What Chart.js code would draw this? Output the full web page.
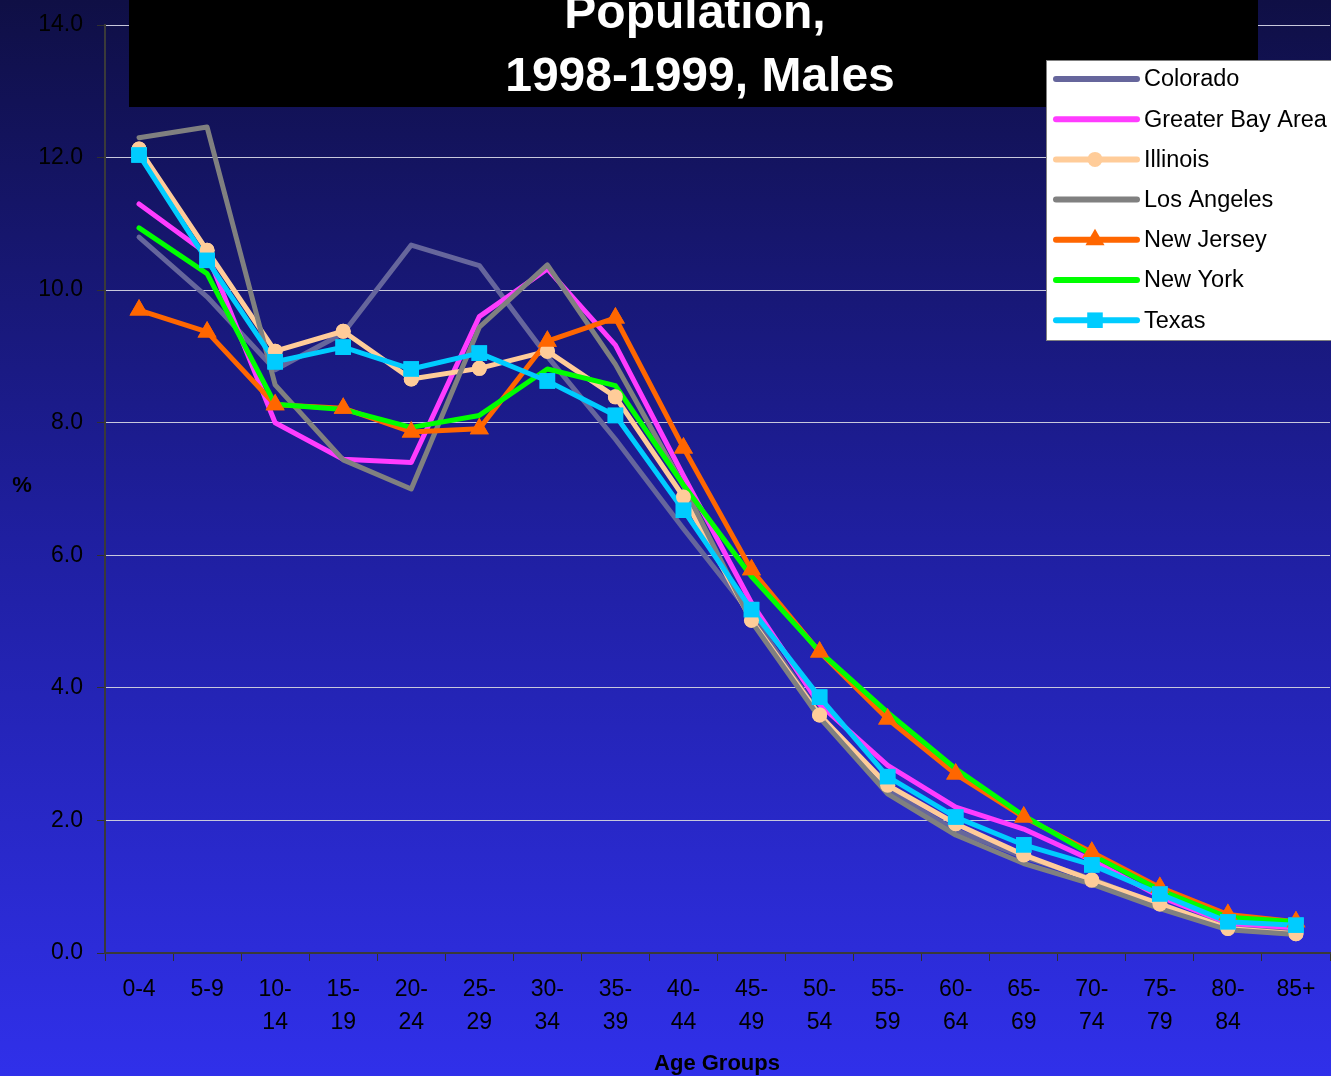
<!DOCTYPE html>
<html>
<head>
<meta charset="utf-8">
<script src="https://cdn.jsdelivr.net/npm/chart.js@4.4.1/dist/chart.umd.min.js"></script>
<style>
  html, body { margin: 0; padding: 0; background: #10104a; overflow: hidden; }
  #wrap { width: 1331px; height: 1076px; position: relative; }
</style>
</head>
<body>
<div id="wrap"><canvas id="popChart"></canvas></div>
<script>
// age groups and percentages
const ageGroups = ['0-4', '5-9', ['10-', '14'], ['15-', '19'], ['20-', '24'], ['25-', '29'],
  ['30-', '34'], ['35-', '39'], ['40-', '44'], ['45-', '49'], ['50-', '54'], ['55-', '59'],
  ['60-', '64'], ['65-', '69'], ['70-', '74'], ['75-', '79'], ['80-', '84'], '85+'];

const colorado   = [10.8, 9.9, 8.8, 9.35, 10.68, 10.37, 9.0, 7.75, 6.4, 5.1, 3.6, 2.45, 1.85, 1.45, 1.12, 0.72, 0.4, 0.33];
const bayArea    = [11.3, 10.55, 8.0, 7.45, 7.4, 9.6, 10.32, 9.17, 7.2, 5.28, 3.75, 2.83, 2.2, 1.87, 1.4, 0.85, 0.45, 0.38];
const illinois   = [12.13, 10.6, 9.08, 9.38, 8.66, 8.82, 9.08, 8.39, 6.88, 5.02, 3.59, 2.53, 1.95, 1.48, 1.1, 0.74, 0.37, 0.29];
const losAngeles = [12.3, 12.46, 8.57, 7.44, 7.0, 9.44, 10.38, 8.88, 7.05, 5.0, 3.55, 2.4, 1.78, 1.35, 1.04, 0.67, 0.35, 0.28];
const newJersey  = [9.7, 9.37, 8.27, 8.22, 7.86, 7.91, 9.23, 9.58, 7.62, 5.78, 4.54, 3.53, 2.7, 2.05, 1.52, 0.99, 0.58, 0.47];
const newYork    = [10.94, 10.25, 8.28, 8.2, 7.93, 8.11, 8.81, 8.56, 7.06, 5.68, 4.55, 3.63, 2.78, 2.07, 1.48, 0.95, 0.54, 0.47];
const texas      = [12.04, 10.45, 8.92, 9.14, 8.81, 9.05, 8.63, 8.11, 6.68, 5.18, 3.86, 2.66, 2.05, 1.63, 1.33, 0.89, 0.47, 0.42];

const yTicks = [0, 2, 4, 6, 8, 10, 12, 14];

function series(label, data, color, order, style, radius) {
  return {
    label: label,
    data: data,
    borderColor: color,
    backgroundColor: color,
    borderWidth: 5,
    tension: 0,
    order: order,
    borderCapStyle: 'round',
    borderJoinStyle: 'round',
    pointStyle: style || 'circle',
    pointRadius: style ? radius : 0,
    pointHoverRadius: style ? radius : 0,
    pointBorderWidth: 0,
    pointBackgroundColor: color
  };
}

// gradient backdrop
const backdrop = {
  id: 'backdrop',
  beforeDraw(chart) {
    const { ctx, width, height } = chart;
    const g = ctx.createLinearGradient(0, 0, 0, height);
    g.addColorStop(0, '#0f0f45');
    g.addColorStop(0.5, '#1f1fa0');
    g.addColorStop(1, '#3030ea');
    ctx.save();
    ctx.fillStyle = g;
    ctx.fillRect(0, 0, width, height);
    ctx.restore();
  }
};

// put markers above all lines, like the original
const markersOnTop = {
  id: 'markersOnTop',
  afterDatasetsDraw(chart) {
    const ctx = chart.ctx;
    [2, 4, 6].forEach(i => {
      chart.getDatasetMeta(i).data.forEach(pt => pt.draw(ctx, chart.chartArea));
    });
  }
};

function marker(ctx, style, x, y, r) {
  ctx.beginPath();
  if (style === 'circle') {
    ctx.arc(x, y, r, 0, Math.PI * 2);
  } else if (style === 'triangle') {
    ctx.moveTo(x, y - r);
    ctx.lineTo(x + r * Math.sqrt(3) / 2, y + r / 2);
    ctx.lineTo(x - r * Math.sqrt(3) / 2, y + r / 2);
    ctx.closePath();
  } else if (style === 'rect') {
    const s = r / Math.SQRT2;
    ctx.rect(x - s, y - s, s * 2, s * 2);
  }
  ctx.fill();
}

// title box, legend and axis titles
const overlay = {
  id: 'overlay',
  afterDraw(chart) {
    const ctx = chart.ctx;
    ctx.save();

    ctx.fillStyle = '#000000';
    ctx.fillRect(129, 0, 1129, 107);
    ctx.fillStyle = '#ffffff';
    ctx.font = 'bold 48px "Liberation Sans", Arial, sans-serif';
    ctx.textAlign = 'center';
    ctx.textBaseline = 'middle';
    ctx.fillText('Population,', 695, 15);
    ctx.fillText('1998-1999, Males', 700, 78);

    ctx.fillStyle = '#ffffff';
    ctx.fillRect(1046, 60, 290, 280);
    ctx.strokeStyle = '#808080';
    ctx.lineWidth = 1;
    ctx.strokeRect(1046.5, 60.5, 290, 280);
    ctx.font = '23.5px "Liberation Sans", Arial, sans-serif';
    ctx.textAlign = 'left';
    chart.data.datasets.forEach((ds, i) => {
      const y = 79 + i * 40.2;
      ctx.strokeStyle = ds.borderColor;
      ctx.lineWidth = 6;
      ctx.lineCap = 'round';
      ctx.beginPath();
      ctx.moveTo(1056, y);
      ctx.lineTo(1137, y);
      ctx.stroke();
      if (ds.pointRadius > 0) {
        ctx.fillStyle = ds.borderColor;
        marker(ctx, ds.pointStyle, 1095, y, ds.pointRadius);
      }
      ctx.fillStyle = '#000000';
      ctx.fillText(ds.label, 1144, y + 1);
    });

    ctx.fillStyle = '#000000';
    ctx.font = 'bold 22px "Liberation Sans", Arial, sans-serif';
    ctx.textAlign = 'center';
    ctx.fillText('%', 22, 486);
    ctx.fillText('Age Groups', 717, 1064);
    ctx.restore();
  }
};

const popChart = document.getElementById('popChart');

var lineChart = new Chart(popChart, {
  type: 'line',
  data: {
    labels: ageGroups,
    datasets: [
      series('Colorado', colorado, '#66669c', 6),
      series('Greater Bay Area', bayArea, '#ff3cff', 5),
      series('Illinois', illinois, '#ffcc99', 4, 'circle', 7.5),
      series('Los Angeles', losAngeles, '#808080', 3),
      series('New Jersey', newJersey, '#ff6600', 2, 'triangle', 11),
      series('New York', newYork, '#00ff00', 1),
      series('Texas', texas, '#00ccff', 0, 'rect', 11)
    ]
  },
  options: {
    responsive: true,
    maintainAspectRatio: false,
    animation: false,
    layout: {
      autoPadding: false,
      padding: { top: 25, right: 1, left: 0, bottom: 0 }
    },
    plugins: {
      legend: { display: false },
      title: { display: false },
      tooltip: { enabled: false }
    },
    scales: {
      x: {
        offset: true,
        afterFit(scale) {
          scale.height = 123;
          scale.paddingLeft = 0;
          scale.paddingRight = 0;
        },
        grid: {
          offset: true,
          drawOnChartArea: false,
          drawTicks: true,
          tickLength: 8,
          tickColor: '#303030',
          lineWidth: 1
        },
        border: { display: true, color: '#3a3a3a', width: 2 },
        ticks: {
          color: '#000000',
          font: { family: '"Liberation Sans", Arial, sans-serif', size: 23, lineHeight: 1.4 },
          padding: 13,
          maxRotation: 0,
          autoSkip: false
        }
      },
      y: {
        min: 0,
        max: 14,
        afterFit(scale) {
          scale.width = 105;
          scale.paddingTop = 0;
          scale.paddingBottom = 0;
        },
        afterBuildTicks(scale) { scale.ticks = yTicks.map(v => ({ value: v })); },
        grid: {
          color: '#c8c8dc',
          lineWidth: 1,
          drawTicks: true,
          tickLength: 8,
          tickColor: '#303030'
        },
        border: { display: true, color: '#3a3a3a', width: 2 },
        ticks: {
          color: '#000000',
          font: { family: '"Liberation Sans", Arial, sans-serif', size: 23 },
          padding: 14,
          callback: v => v.toFixed(1)
        }
      }
    }
  },
  plugins: [backdrop, markersOnTop, overlay]
});
</script>
</body>
</html>
